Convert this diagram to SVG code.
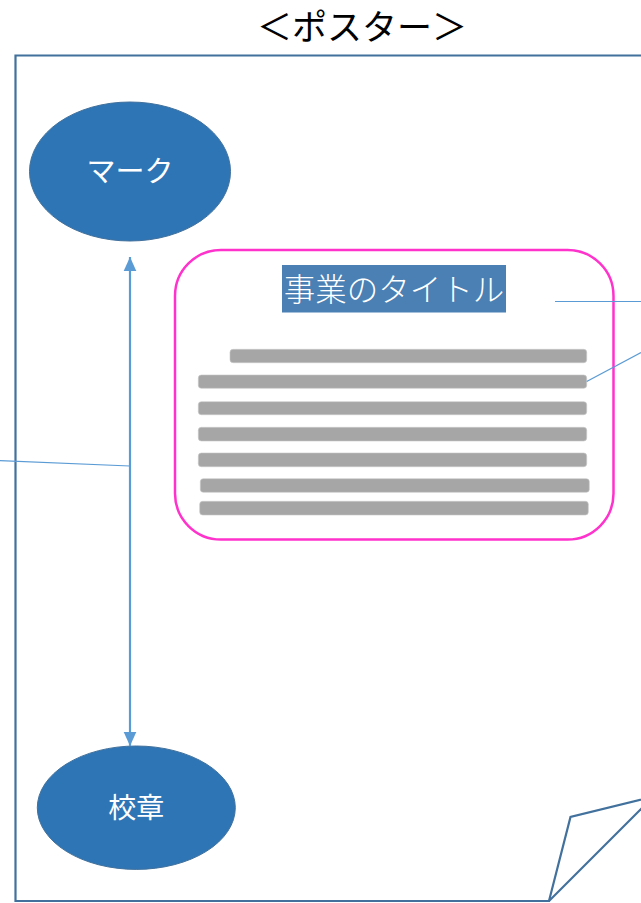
<svg xmlns="http://www.w3.org/2000/svg" width="641" height="903" viewBox="0 0 641 903">
<defs>
<style>
.frame{fill:none;stroke:#41719C;stroke-width:2.2;stroke-linejoin:miter}
.node{fill:#2E75B6;stroke:#41719C;stroke-width:1}
.lbl{font-family:"Noto Sans CJK JP","Noto Sans",sans-serif;fill:#ffffff;text-anchor:middle}
.bar{fill:#A6A6A6;stroke:#C8C8C8;stroke-width:0.6}
.conn{fill:none;stroke:#5B9BD5;stroke-width:1.2}
.dbl{fill:none;stroke:#5B9BD5;stroke-width:2.2}
</style>
<marker id="ah" viewBox="0 0 10 10" refX="10" refY="5" markerWidth="14" markerHeight="14" markerUnits="userSpaceOnUse" orient="auto-start-reverse">
<path d="M0,0.5 L10,5 L0,9.5 z" fill="#5B9BD5"/>
</marker>
</defs>
<rect width="641" height="903" fill="#ffffff"/>
<g id="heading">
<text x="362" y="40" font-family="'Noto Sans CJK JP','Noto Sans',sans-serif" font-size="35" fill="#000000" text-anchor="middle">＜ポスター＞</text>
</g>
<g id="poster">
<path class="frame" d="M660 55.5 L15.5 55.5 L15.5 901 L549 901 L570.5 817 L660 795"/>
<path class="frame" d="M549 901 L660 790"/>
</g>
<g id="mark">
<ellipse class="node" cx="130" cy="171.5" rx="100.5" ry="69.5"/>
<text class="lbl" x="130" y="181.5" font-size="29">マーク</text>
</g>
<g id="emblem">
<ellipse class="node" cx="136.3" cy="807.7" rx="99" ry="61.7"/>
<text class="lbl" x="136.3" y="817.5" font-size="28">校章</text>
</g>
<g id="content">
<rect x="175" y="250" width="438.5" height="289.5" rx="46" ry="46" fill="#ffffff" stroke="#FF33CC" stroke-width="2.5"/>
<rect x="282" y="265" width="224" height="47.5" fill="#4A80B3"/>
<text class="lbl" x="394" y="301" font-size="31.5" font-weight="300">事業のタイトル</text>
<rect class="bar" x="230" y="349.3" width="356.7" height="13.4" rx="3"/>
<rect class="bar" x="198.3" y="375" width="388.4" height="13.3" rx="3"/>
<rect class="bar" x="198.3" y="401.7" width="388.4" height="13" rx="3"/>
<rect class="bar" x="198.3" y="427.3" width="388.4" height="13.7" rx="3"/>
<rect class="bar" x="198.3" y="453" width="388.4" height="13.7" rx="3"/>
<rect class="bar" x="200.3" y="478.7" width="389" height="13.6" rx="3"/>
<rect class="bar" x="199.7" y="501.3" width="388.6" height="13.7" rx="3"/>
</g>
<g id="connectors">
<line class="dbl" x1="130" y1="257" x2="130" y2="746" marker-start="url(#ah)" marker-end="url(#ah)"/>
<line class="conn" x1="0" y1="460.7" x2="130" y2="466"/>
<line class="conn" x1="555" y1="301.5" x2="641" y2="301.5"/>
<line class="conn" x1="586.7" y1="381.5" x2="641" y2="352.5"/>
</g>
</svg>
